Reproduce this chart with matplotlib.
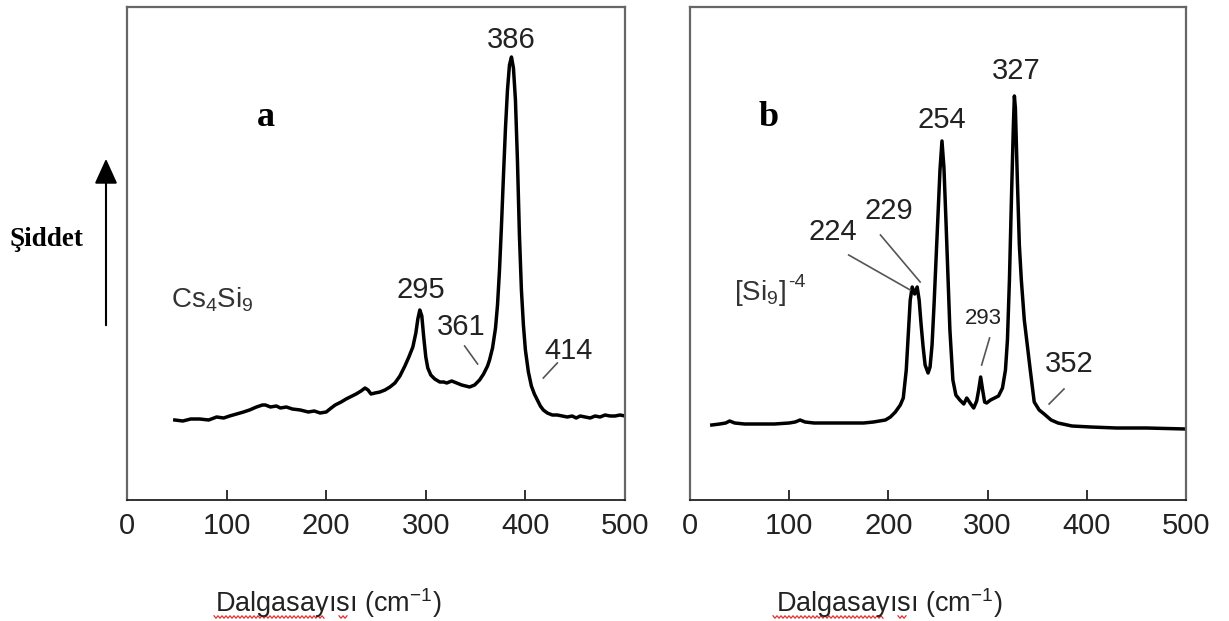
import numpy as np
import matplotlib
matplotlib.use("Agg")
import matplotlib.pyplot as plt
from matplotlib.lines import Line2D

plt.rcParams['font.family'] = ['Liberation Sans', 'DejaVu Sans']
plt.rcParams['mathtext.default'] = 'regular'

# ---------------- data ----------------
# Panel a: Cs4Si9 Raman spectrum (wavenumber, intensity a.u.)
a_wn = [48, 56, 64, 73, 82, 90, 97, 103, 110, 117, 123, 130, 136, 139, 144, 150, 154, 160,
        166, 174, 182, 188, 194, 200, 205, 209, 215, 220, 224, 230, 235, 239, 242, 245, 249,
        254, 259, 264, 269, 274, 279, 283, 287, 290, 292, 294, 296, 298, 300, 302, 305, 309,
        314, 318, 321, 326, 331, 336, 340, 344, 349, 354, 358, 362, 364, 367, 370, 372, 374,
        376, 378, 380, 382, 384, 386, 388, 390, 392, 394, 396, 398, 400, 403, 406, 409, 412,
        415, 418, 422, 427, 432, 437, 442, 447, 451, 455, 460, 465, 470, 475, 480, 485, 490,
        495, 500]
a_int = [80, 79, 81, 81, 80, 83, 82, 84, 86, 88, 90, 93, 95, 95, 93, 94, 92, 93,
         91, 90, 88, 89, 87, 88, 92, 95, 98, 101, 103, 106, 109, 112, 110, 106, 107,
         108, 110, 113, 117, 124, 134, 143, 153, 167, 181, 190, 184, 162, 143, 132, 125, 121,
         118, 118, 117, 119, 117, 115, 114, 113, 115, 120, 126, 134, 140, 152, 172, 195, 230,
         275, 325, 372, 410, 435, 443, 432, 400, 340, 265, 210, 175, 150, 128, 114, 106, 100,
         94, 90, 87, 85, 85, 84, 83, 84, 82, 84, 83, 82, 84, 83, 85, 84, 84,
         85, 84]

# Panel b: [Si9]-4 Raman spectrum
b_wn = [22, 30, 36, 40, 45, 55, 70, 85, 100, 106, 111, 116, 125, 140, 160, 175, 185, 191,
        197, 202, 207, 212, 215, 218, 220, 222, 224, 226.5, 229, 231, 233, 235, 237, 240,
        242, 244, 246, 248, 250, 252, 254, 256, 258, 260, 262, 265, 268, 272, 276, 279, 283,
        286, 289, 291, 293, 295, 297, 299, 303, 307, 311, 315, 318, 320, 322, 324, 326, 327,
        328, 330, 332, 334, 337, 340, 343, 347, 352, 357, 364, 371, 385, 404, 430, 460, 500]
b_int = [75, 76, 77, 79, 77, 76, 76, 76, 77, 78, 80, 78, 77, 77, 77, 77, 78, 79,
         80, 83, 88, 95, 102, 130, 165, 200, 213, 206, 213, 200, 175, 153, 135, 127,
         133, 155, 195, 240, 285, 330, 359, 332, 280, 225, 170, 120, 105, 100, 96, 102, 96,
         92, 99, 110, 123, 110, 98, 97, 100, 102, 104, 112, 130, 160, 220, 300, 375, 404,
         392, 320, 255, 220, 180, 155, 130, 98, 90, 86, 80, 77, 74, 73, 72, 72, 71]

xticks = [0, 100, 200, 300, 400, 500]
xlabel = "Dalgasay\u0131s\u0131 (cm$^{-1}$)"

# annotations: (text, x, y, fontsize)
a_labels = [("295", 295, 210, 21), ("361", 336, 173, 21), ("386", 386, 460, 21),
            ("414", 443, 149, 21)]
a_leaders = [((339, 154), (352, 136)), ((432, 137), (418, 122))]
b_labels = [("224", 144, 268, 21), ("229", 200, 289, 21), ("254", 254, 380, 21),
            ("327", 329, 429, 21), ("293", 296, 181, 16), ("352", 382, 136, 21)]
b_leaders = [((160, 245), (222, 210)), ((192, 265), (232, 218)),
             ((302, 162), (294, 135)), ((377, 111), (362, 96))]

# ---------------- figure ----------------
W, H = 1229, 621
fig = plt.figure(figsize=(W / 100, H / 100), dpi=100)

def make_ax(left_px, right_px):
    ax = fig.add_axes([left_px / W, (H - 500) / H, (right_px - left_px) / W, 493 / H])
    ax.set_xlim(0, 500)
    ax.set_ylim(0, 493)
    ax.set_yticks([])
    ax.set_xticks(xticks)
    ax.set_xticklabels([str(t) for t in xticks])
    ax.tick_params(axis='x', direction='in', length=7, width=1.3, pad=9,
                   labelsize=21, labelcolor='#222222', color='#222222', top=False)
    for s in ['left', 'top', 'right']:
        ax.spines[s].set_color('#666666')
        ax.spines[s].set_linewidth(1.6)
    ax.spines['bottom'].set_color('#222222')
    ax.spines['bottom'].set_linewidth(1.3)
    return ax

axa = make_ax(127, 625)
axb = make_ax(690, 1186)

axa.plot(a_wn, a_int, color='black', lw=2.5, solid_joinstyle='round')
axb.plot(b_wn, b_int, color='black', lw=2.5, solid_joinstyle='round')

for ax, labels, leaders in [(axa, a_labels, a_leaders), (axb, b_labels, b_leaders)]:
    for t, x, y, fs in labels:
        ax.text(x, y, t, ha='center', va='center', fontsize=fs, color='#222222')
    for (x0, y0), (x1, y1) in leaders:
        ax.plot([x0, x1], [y0, y1], color='#555555', lw=1.2)

axa.text(139, 383, "a", ha='center', va='center', fontsize=26, fontweight='bold',
         family='Liberation Serif')
axb.text(79, 383, "b", ha='center', va='center', fontsize=26, fontweight='bold',
         family='Liberation Serif')
axa.text(44, 193, "Cs$_4$Si$_9$", ha='left', va='baseline', fontsize=20, color='#333333')
axb.text(44, 200, "[Si$_9$]", ha='left', va='baseline', fontsize=20, color='#333333')
axb.text(99, 213, "-4", ha='left', va='baseline', fontsize=14, color='#333333')

# y-axis label with arrow
fig.text(46 / W, 1 - 240 / H, "\u015eiddet", ha='center', va='center', fontsize=19.5,
         fontweight='bold', family='Liberation Serif')
fig.patches.append(matplotlib.patches.FancyArrowPatch(
    (106 / W, 1 - 328 / H), (106 / W, 1 - 156 / H), transform=fig.transFigure,
    arrowstyle='-|>,head_length=1.1,head_width=0.5', mutation_scale=14,
    color='black', lw=1.5))

# x labels
for cx in (328, 889):
    fig.text(cx / W, 1 - 603 / H, xlabel, ha='center', va='center', fontsize=19.5,
             color='#222222')

# spell-check squiggles under "Dalgasayısı"
for x0, x1 in ((214, 325), (773, 884)):
    xs = np.arange(x0, x1 + 0.1, 2.0)
    ys = 617 + np.where(np.arange(len(xs)) % 2 == 0, -1.2, 1.2)
    fig.lines.append(Line2D(xs / W, 1 - ys / H, transform=fig.transFigure,
                            color='#e03030', lw=0.9))
    xs2 = np.arange(x0 + 125, x0 + 133.1, 2.0)
    ys2 = 617 + np.where(np.arange(len(xs2)) % 2 == 0, -1.2, 1.2)
    fig.lines.append(Line2D(xs2 / W, 1 - ys2 / H, transform=fig.transFigure,
                            color='#e03030', lw=0.9))

fig.savefig("out.png", dpi=100)
